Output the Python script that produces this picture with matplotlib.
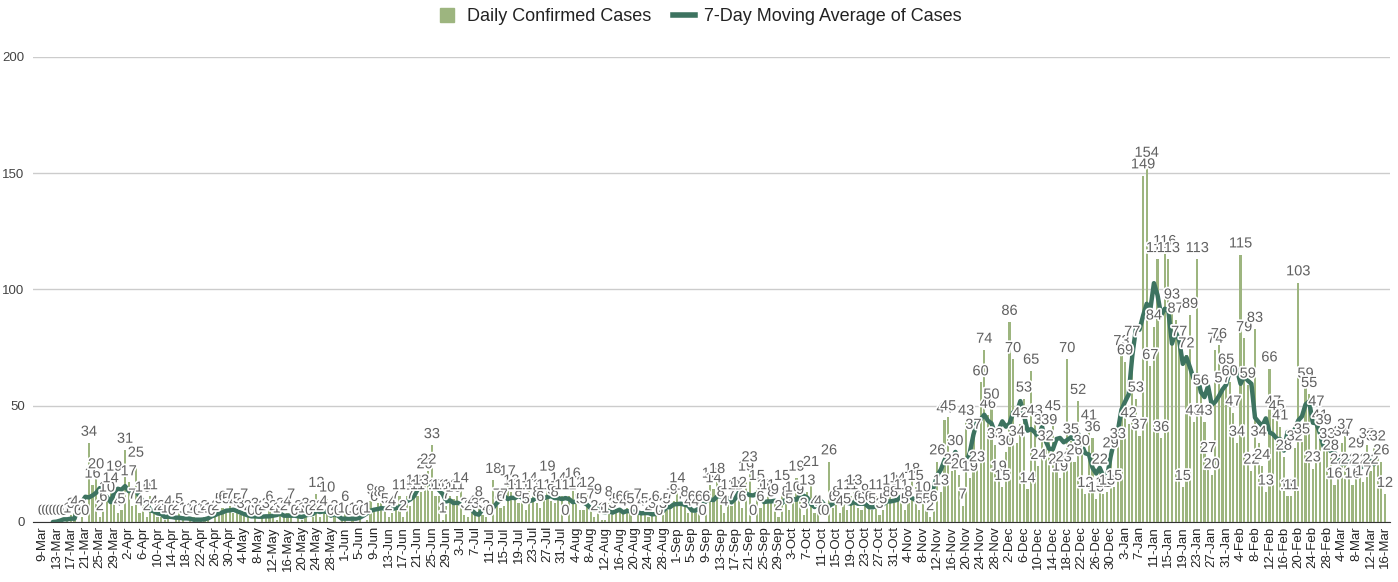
import numpy as np
import pandas as pd
import matplotlib
matplotlib.use("Agg")
import matplotlib.pyplot as plt
import matplotlib.patheffects as pe
from matplotlib.lines import Line2D

plt.rcParams['font.family'] = ['Liberation Sans', 'DejaVu Sans']

# daily confirmed cases
mar20 = [0, 0, 0, 0, 0, 0, 0, 1, 3, 4, 0, 2, 0, 34, 16, 20, 2, 6, 10, 14, 19, 4, 5]
apr20 = [31, 17, 7, 25, 4, 10, 2, 11, 4, 2, 2, 1, 4, 0, 2, 5, 1, 0, 1, 2,
         0, 1, 2, 1, 0, 2, 5, 6, 5, 7]
may20 = [4, 5, 3, 7, 2, 0, 3, 0, 2, 3, 6, 2, 1, 3, 2, 4, 7, 0, 2, 1,
         3, 0, 2, 12, 2, 4, 10, 0, 2, 0, 1]
jun20 = [6, 0, 1, 0, 2, 0, 1, 9, 6, 8, 8, 5, 2, 4, 7, 11, 2, 11, 7, 13,
         11, 13, 20, 22, 33, 11, 11, 1, 7, 11]
jul20 = [10, 11, 14, 3, 2, 4, 3, 8, 3, 2, 0, 18, 7, 6, 7, 17, 13, 11, 8, 11,
         5, 14, 11, 8, 6, 11, 19, 9, 8, 14, 11]
aug20 = [0, 11, 16, 12, 5, 5, 12, 7, 2, 9, 1, 1, 8, 3, 5, 6, 4, 6, 5, 0,
         7, 4, 5, 2, 3, 6, 0, 3, 5, 7, 9]
sep20 = [14, 7, 8, 4, 6, 4, 6, 0, 6, 16, 14, 18, 8, 4, 11, 7, 11, 12, 6, 19,
         23, 0, 15, 6, 11, 11, 8, 9, 2, 15]
oct20 = [8, 5, 10, 19, 9, 3, 13, 21, 4, 4, 0, 0, 26, 6, 8, 4, 11, 5, 11, 13,
         6, 5, 9, 6, 5, 11, 3, 5, 8, 13, 8]
nov20 = [14, 11, 5, 8, 18, 15, 5, 10, 5, 2, 6, 26, 13, 44, 45, 22, 30, 20, 7, 43,
         19, 37, 23, 60, 74, 46, 50, 33, 19, 15]
dec20 = [30, 86, 70, 34, 42, 53, 14, 65, 43, 24, 39, 32, 39, 45, 22, 19, 23, 70, 35, 26,
         52, 30, 12, 41, 36, 10, 22, 12, 13, 29, 15]
jan21 = [33, 73, 69, 42, 77, 53, 37, 149, 154, 67, 84, 113, 36, 116, 113, 93, 87, 77, 15, 72,
         89, 43, 113, 56, 43, 27, 20, 74, 76, 57, 65]
feb21 = [60, 47, 34, 115, 79, 59, 22, 83, 34, 24, 13, 66, 47, 45, 41, 28, 11, 11, 32, 103,
         35, 59, 55, 23, 47, 41, 39, 33]
mar21 = [28, 16, 22, 34, 37, 22, 16, 29, 22, 17, 33, 22, 32, 32, 26, 12]

cases = mar20 + apr20 + may20 + jun20 + jul20 + aug20 + sep20 + oct20 + nov20 + dec20 + jan21 + feb21 + mar21
dates = pd.date_range('2020-03-09', periods=len(cases), freq='D')
tick_labels = [f"{d.day}-{d.strftime('%b')}" for d in dates[::4]]

# centred 7-day moving average of the daily series
ma = pd.Series(cases, index=dates).rolling(7, center=True).mean()

bar_color = '#9db57f'
line_color = '#3d7360'

fig = plt.figure(figsize=(13.98, 5.82), dpi=100)
ax = fig.add_axes([0.0236, 0.1031, 0.9707, 0.799])

x = np.arange(len(cases))
ax.bar(x, cases, width=0.6, color=bar_color, zorder=2)
ax.plot(x, ma.values, color=line_color, lw=3.2, zorder=3, solid_capstyle='round')

halo = [pe.withStroke(linewidth=2.5, foreground='white')]
for xi, v in zip(x, cases):
    ax.annotate(str(v), (xi, v), xytext=(0, 3), textcoords='offset points',
                ha='center', va='bottom', fontsize=10.5, color='#606060',
                zorder=4, path_effects=halo)

ax.set_xlim(-2.5, len(cases) + 0.4)
ax.set_ylim(0, 200)
ax.set_yticks([0, 50, 100, 150, 200])
ax.yaxis.grid(True, color='#cccccc', lw=1)
ax.set_axisbelow(True)
for sp in ['top', 'right', 'left']:
    ax.spines[sp].set_visible(False)
ax.spines['bottom'].set_color('#333333')
ax.set_xticks(x[::4])
ax.set_xticklabels(tick_labels, rotation=90, fontsize=9.5, color='#222222')
ax.tick_params(axis='x', length=0, pad=3)
ax.tick_params(axis='y', length=0, pad=6, labelsize=9.5, labelcolor='#444444')

handles = [Line2D([], [], marker='s', ls='', color=bar_color, markersize=10),
           Line2D([], [], color=line_color, lw=4)]
fig.legend(handles, ['Daily Confirmed Cases', '7-Day Moving Average of Cases'],
           loc='center', bbox_to_anchor=(0.5, 0.971), ncol=2, frameon=False,
           fontsize=13, handlelength=1.2, handletextpad=0.5, columnspacing=1.2,
           labelcolor='#222222')

fig.savefig('out.png', dpi=100)
